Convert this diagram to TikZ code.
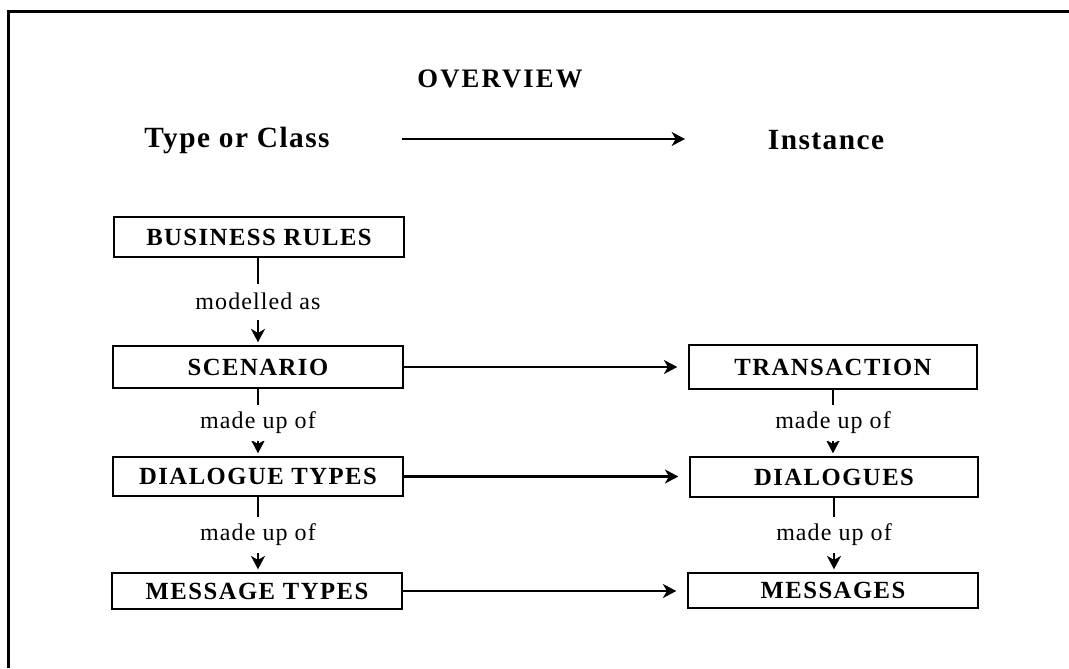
\documentclass[tikz,border=0pt]{standalone}
\usepackage{fontspec}
\setmainfont{Liberation Serif}
\usetikzlibrary{arrows.meta}
\begin{document}
\begin{tikzpicture}[x=0.75pt,y=-0.75pt,
  boxnode/.style={draw, line width=1.6pt, minimum width=217.5pt, inner sep=0pt,
    font=\fontsize{18.5}{20}\selectfont\bfseries\addfontfeatures{LetterSpace=6}},
  lbl/.style={fill=white, inner sep=0pt, minimum height=27pt,
    font=\fontsize{18}{20}\selectfont\addfontfeatures{LetterSpace=4.5}},
  head/.style={font=\fontsize{22}{24}\selectfont\bfseries\addfontfeatures{LetterSpace=5}},
  titlefont/.style={font=\fontsize{20}{22}\selectfont\bfseries\addfontfeatures{LetterSpace=8}},
  conn/.style={line width=1.6pt, -{Stealth[length=10pt,width=10.5pt,inset=3pt]}},
  vconn/.style={conn, shorten >=2pt},
  hconn/.style={conn, shorten >=8pt}
]
\useasboundingbox (0,0) rectangle (1069,668);
% frame
\draw[line width=2.25pt] (8,668) -- (8,11) -- (1069,11);

\node[titlefont] (title) at (500,79) {OVERVIEW};
\node[head] (toc) at (237,140) {Type or Class};
\node[head] (inst) at (826,140) {Instance};
\coordinate (a1) at (402,139);
\coordinate (a2) at (685,139);
\draw[conn] (a1) -- (a2);

% left column
\node[boxnode, minimum height=30pt] (br) at (259,237) {BUSINESS RULES};
\node[boxnode, minimum height=31.5pt] (sc) at (258,367) {SCENARIO};
\node[boxnode, minimum height=29.25pt] (dt) at (258,476.5) {DIALOGUE TYPES};
\node[boxnode, minimum height=27pt] (mt) at (257,591) {MESSAGE TYPES};
% right column
\node[boxnode, minimum height=33pt, minimum width=216pt] (tr) at (833,367) {TRANSACTION};
\node[boxnode, minimum height=30pt, minimum width=216pt] (dl) at (834,477) {DIALOGUES};
\node[boxnode, minimum height=26.25pt, minimum width=217.5pt] (ms) at (833,590.5) {MESSAGES};

% vertical connectors
\draw[vconn] (br.south -| sc.north) -- node[lbl] {modelled as} (sc.north);
\draw[vconn] (sc.south) -- node[lbl] {made up of} (sc.south |- dt.north);
\draw[vconn] (dt.south) -- node[lbl] {made up of} (dt.south |- mt.north);
\draw[vconn] (tr.south) -- node[lbl] {made up of} (tr.south |- dl.north);
\draw[vconn] (dl.south) -- node[lbl] {made up of} (dl.south |- ms.north);

% horizontal connectors
\draw[hconn] (sc.east) -- (sc.east -| tr.west);
\draw[hconn] (dt.east) -- (dt.east -| dl.west);
\draw[hconn] (mt.east) -- (mt.east -| ms.west);
\end{tikzpicture}
\end{document}
